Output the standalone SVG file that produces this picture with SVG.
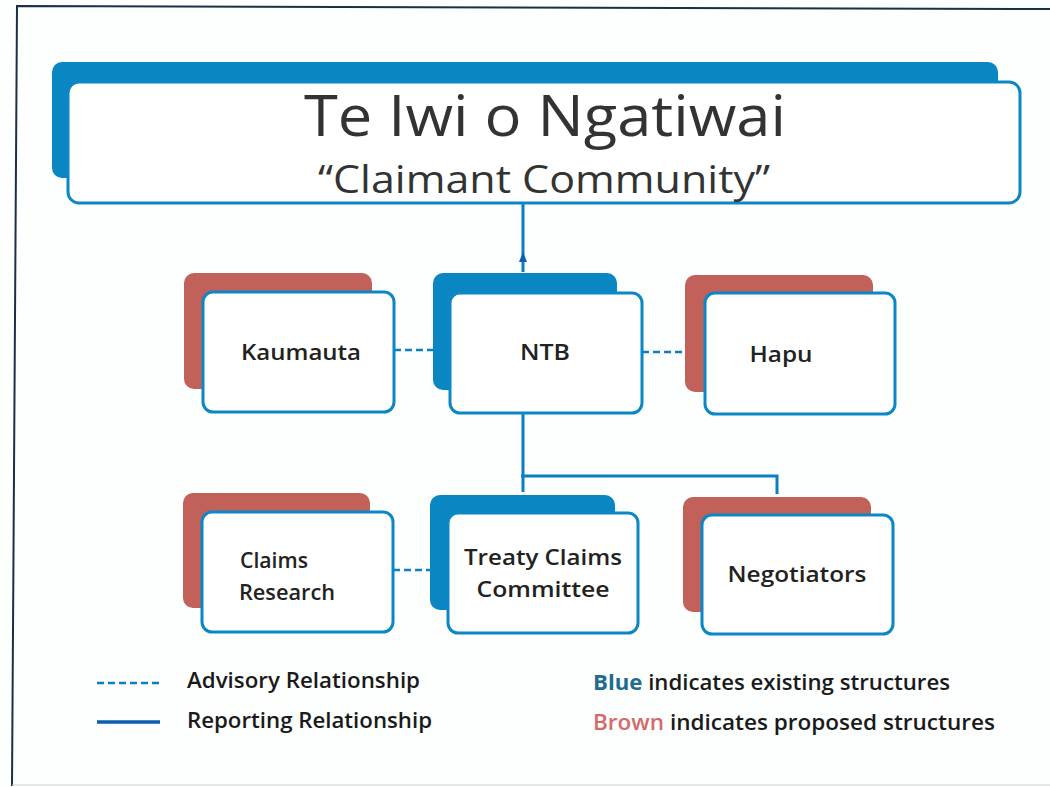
<svg xmlns="http://www.w3.org/2000/svg" width="1050" height="787" viewBox="0 0 1050 787">
<style>
.bg{fill:#fdfefe}
.frame{stroke:#1c2f48;stroke-width:2;fill:none}
.blue{fill:#0a86c2}
.brown{fill:#c2605a}
.front{fill:#ffffff;stroke:#0b87c5;stroke-width:3}
.lbl{font-family:"Open Sans","Liberation Sans",sans-serif;font-weight:600;font-size:22px;fill:#222}
.leg{font-family:"Open Sans","Liberation Sans",sans-serif;font-weight:600;font-size:22px;fill:#1a1a1a}
.title{font-family:"Open Sans","Liberation Sans",sans-serif;font-weight:500;fill:#333}
.rep{stroke:#0b7fc0;stroke-width:3;fill:none}
.adv{stroke:#0b7fc0;stroke-width:2.5;fill:none;stroke-dasharray:7,4}
</style>
<rect class="bg" x="0" y="0" width="1050" height="787"/>
<path class="frame" d="M12,786 L17,6 L1050,9"/>
<path d="M12,785 L1050,785" stroke="#c8d0d8" stroke-width="1"/>

<g id="connectors">
<line class="rep" x1="523" y1="203" x2="523" y2="272"/>
<path d="M519,262 L523,252 L527,262 Z" fill="#0b5fae"/>
<polyline class="rep" points="523,413 523,492"/>
<polyline class="rep" points="521,476 777,476 777,494"/>
<line class="adv" x1="394" y1="350" x2="435" y2="350"/>
<line class="adv" x1="642" y1="352" x2="697" y2="352"/>
<line class="adv" x1="393" y1="570" x2="432" y2="570"/>
</g>

<g id="title">
<rect class="blue" x="52" y="62" width="946" height="116" rx="10"/>
<rect class="front" x="68" y="82" width="952" height="121" rx="11"/>
<text class="title" x="545" y="136" font-size="56" text-anchor="middle" textLength="482" lengthAdjust="spacingAndGlyphs">Te Iwi o Ngatiwai</text>
<text class="title" x="544" y="193" font-size="38" text-anchor="middle" textLength="452" lengthAdjust="spacingAndGlyphs">“Claimant Community”</text>
</g>

<g id="kaumauta">
<rect class="brown" x="184" y="273" width="188" height="116" rx="10"/>
<rect class="front" x="203" y="292" width="191" height="120" rx="10"/>
<text class="lbl" x="301" y="360" text-anchor="middle" textLength="120" lengthAdjust="spacingAndGlyphs">Kaumauta</text>
</g>

<g id="ntb">
<rect class="blue" x="433" y="273" width="184" height="117" rx="10"/>
<rect class="front" x="450" y="293" width="192" height="120" rx="10"/>
<text class="lbl" x="545" y="360" text-anchor="middle" textLength="50" lengthAdjust="spacingAndGlyphs">NTB</text>
</g>

<g id="hapu">
<rect class="brown" x="685" y="275" width="188" height="117" rx="10"/>
<rect class="front" x="705" y="293" width="190" height="121" rx="10"/>
<text class="lbl" x="781" y="362" text-anchor="middle" textLength="63" lengthAdjust="spacingAndGlyphs">Hapu</text>
</g>

<g id="claims-research">
<rect class="brown" x="183" y="493" width="187" height="115" rx="10"/>
<rect class="front" x="202" y="512" width="191" height="120" rx="10"/>
<text class="lbl" x="240" y="568" textLength="68" lengthAdjust="spacingAndGlyphs">Claims</text>
<text class="lbl" x="239" y="600" textLength="96" lengthAdjust="spacingAndGlyphs">Research</text>
</g>

<g id="treaty-claims-committee">
<rect class="blue" x="430" y="495" width="185" height="115" rx="10"/>
<rect class="front" x="448" y="513" width="190" height="120" rx="10"/>
<text class="lbl" x="543" y="565" text-anchor="middle" textLength="158" lengthAdjust="spacingAndGlyphs">Treaty Claims</text>
<text class="lbl" x="543" y="597" text-anchor="middle" textLength="133" lengthAdjust="spacingAndGlyphs">Committee</text>
</g>

<g id="negotiators">
<rect class="brown" x="683" y="497" width="188" height="115" rx="10"/>
<rect class="front" x="702" y="515" width="191" height="119" rx="10"/>
<text class="lbl" x="797" y="582" text-anchor="middle" textLength="139" lengthAdjust="spacingAndGlyphs">Negotiators</text>
</g>

<g id="legend">
<line class="adv" x1="97" y1="683" x2="160" y2="683" stroke-dasharray="6,3"/>
<text class="leg" x="187" y="688" textLength="233" lengthAdjust="spacingAndGlyphs">Advisory Relationship</text>
<line x1="97" y1="722" x2="160" y2="722" stroke="#0b5fae" stroke-width="3.5"/>
<text class="leg" x="187" y="728" textLength="245" lengthAdjust="spacingAndGlyphs">Reporting Relationship</text>
<text class="leg" x="593" y="690" textLength="357" lengthAdjust="spacingAndGlyphs"><tspan fill="#1f6c8e" font-weight="700">Blue</tspan> indicates existing structures</text>
<text class="leg" x="593" y="730" textLength="402" lengthAdjust="spacingAndGlyphs"><tspan fill="#d46a6a">Brown</tspan> indicates proposed structures</text>
</g>
</svg>
